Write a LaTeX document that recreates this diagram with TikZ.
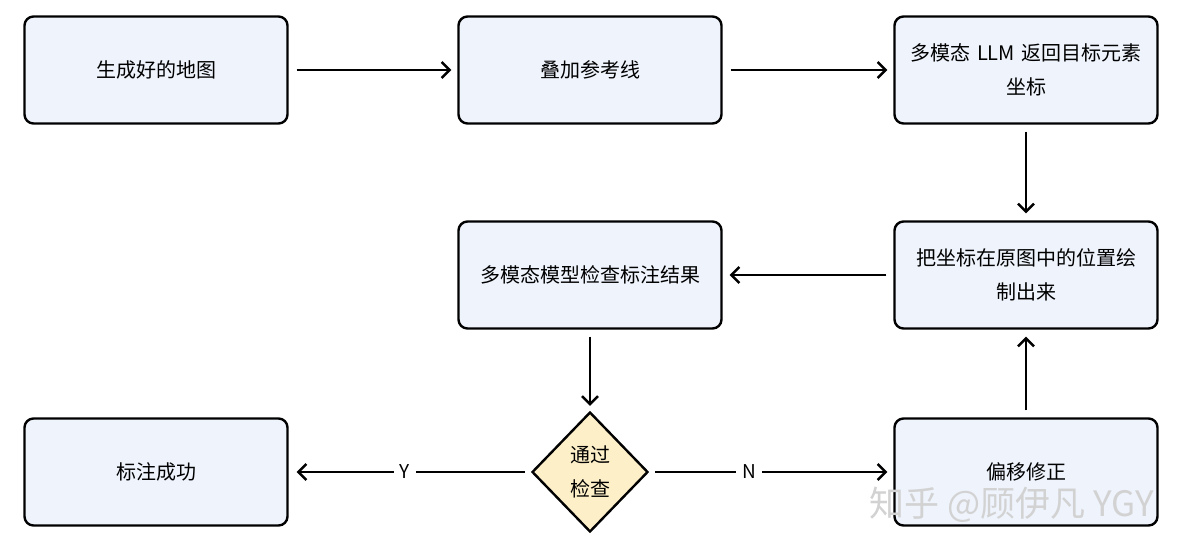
\documentclass[tikz,border=0pt]{standalone}
\usepackage{fontspec}
\setmainfont{Noto Sans CJK SC}
\usetikzlibrary{shapes.geometric,arrows.meta}
\begin{document}
\begin{tikzpicture}[x=1pt,y=-1pt,
  box/.style={draw=black,line width=2.4pt,rounded corners=9pt,fill=boxfill,minimum width=263pt,minimum height=107pt,text width=250pt,align=center,font=\fontsize{20}{34}\selectfont},
  dia/.style={draw=black,line width=2.4pt,diamond,fill=diafill,minimum width=116pt,minimum height=120pt,inner sep=0pt,align=center,font=\fontsize{20}{34}\selectfont},
  arr/.style={line width=2.4pt,-{Straight Barb[length=8pt,width=16pt,line width=2.4pt]}},
  lab/.style={fill=white,font=\fontsize{19}{22}\selectfont,inner sep=6pt}]
\definecolor{boxfill}{HTML}{EEF3FC}
\definecolor{diafill}{HTML}{FDEFC8}
\useasboundingbox[fill=white] (0,0) rectangle (1182,550);
\node[box] (a) at (156,70) {生成好的地图};
\node[box] (b) at (590,70) {叠加参考线};
\node[box] (c) at (1026,70) {多模态 LLM 返回目标元素\\坐标};
\node[box] (d) at (1026,275) {把坐标在原图中的位置绘\\制出来};
\node[box] (e) at (590,275) {多模态模型检查标注结果};
\node[dia] (f) at (590,472) {通过\\检查};
\node[box] (g) at (156,472) {标注成功};
\node[box] (h) at (1026,472) {偏移修正};
\draw[arr,shorten <=8pt,shorten >=6pt] (a) -- (b);
\draw[arr,shorten <=8pt,shorten >=6pt] (b) -- (c);
\draw[arr,shorten <=7pt,shorten >=7pt] (c) -- (d);
\draw[arr,shorten <=7pt,shorten >=7pt] (d) -- (e);
\draw[arr,shorten <=7pt,shorten >=5pt] (e) -- (f);
\draw[arr,shorten <=6pt,shorten >=8pt] (f) -- node[lab,pos=0.52]{Y} (g);
\draw[arr,shorten <=6pt,shorten >=6pt] (f) -- node[lab,pos=0.41]{N} (h);
\draw[arr,shorten <=7pt,shorten >=7pt] (h) -- (d);
\node[text=gray!35,font=\fontsize{35}{38}\selectfont,anchor=east] (w) at (1158,505) {知乎 @顾伊凡 YGY};
\end{tikzpicture}
\end{document}
